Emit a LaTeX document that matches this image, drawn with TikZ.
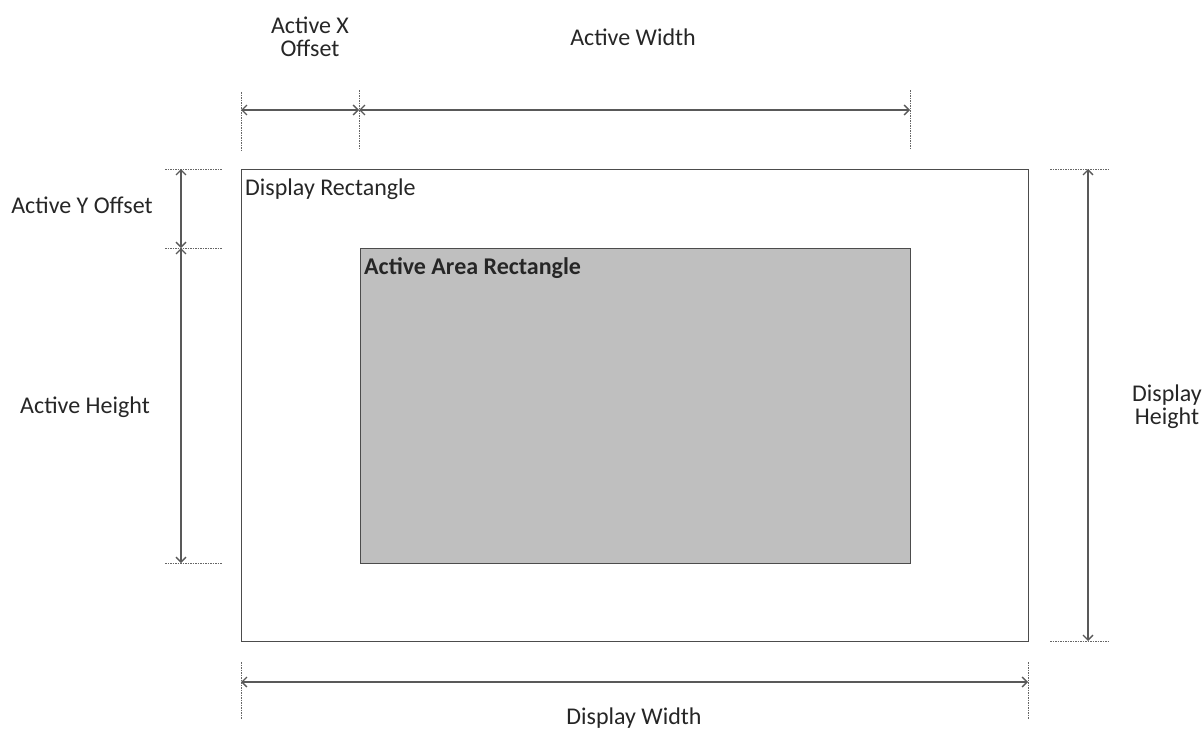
\documentclass[tikz,border=0pt]{standalone}
\usepackage{fontspec}
\setmainfont{Carlito}
\usetikzlibrary{arrows.meta}
\begin{document}
\begin{tikzpicture}[x=1pt,y=-1pt,
  dim/.style={draw=black!65,line width=1.3pt,{Straight Barb[length=5pt,width=10pt]}-{Straight Barb[length=5pt,width=10pt]}},
  ext/.style={draw=black!60,line width=1pt,dash pattern=on 1.5pt off 1pt},
  lbl/.style={font=\fontsize{24}{23}\selectfont,text=black!85,align=center,inner sep=0pt}]
\useasboundingbox (0,0) rectangle (1204,731);
% rectangles
\node[draw=black!70,line width=1.2pt,minimum width=787pt,minimum height=472pt,inner sep=0pt,anchor=north west] (disp) at (241,169) {};
\node[draw=black!70,fill=black!25,line width=1.2pt,minimum width=550pt,minimum height=315pt,inner sep=0pt,anchor=north west] (act) at (360,248) {};
\node[lbl,anchor=west] (dispL) at (245,189) {Display Rectangle};
\node[lbl,anchor=west,font=\fontsize{24}{23}\selectfont\bfseries] (actL) at (364,268) {Active Area Rectangle};
% coordinates
\coordinate (t1) at (241,110); \coordinate (t2) at (359,110); \coordinate (t3) at (910,110);
\coordinate (l1) at (181,169); \coordinate (l2) at (181,248); \coordinate (l3) at (181,563);
\coordinate (r1) at (1088,169); \coordinate (r2) at (1088,641);
\coordinate (b1) at (241,682); \coordinate (b2) at (1028,682);
% extension lines
\draw[ext] (241,92) -- (241,150);
\draw[ext] (359,90) -- (359,148);
\draw[ext] (910,90) -- (910,148);
\draw[ext] (165,169) -- (222,169);
\draw[ext] (165,248) -- (222,248);
\draw[ext] (165,563) -- (222,563);
\draw[ext] (1050,169) -- (1108,169);
\draw[ext] (1050,641) -- (1108,641);
\draw[ext] (241,662) -- (241,719);
\draw[ext] (1028,662) -- (1028,719);
% dimension lines
\draw[dim] (t1) -- (t2);
\draw[dim] (t2) -- (t3);
\draw[dim] (l1) -- (l2);
\draw[dim] (l2) -- (l3);
\draw[dim] (r1) -- (r2);
\draw[dim] (b1) -- (b2);
% labels
\node[lbl] (axo) at (310,37) {Active X\\Offset};
\node[lbl] (aw) at (633,37) {Active Width};
\node[lbl] (ayo) at (82,205) {Active Y Offset};
\node[lbl] (ah) at (85,407) {Active Height};
\node[lbl] (dh) at (1167,407) {Display\\Height};
\node[lbl] (dw) at (634,718) {Display Width};
\end{tikzpicture}
\end{document}
